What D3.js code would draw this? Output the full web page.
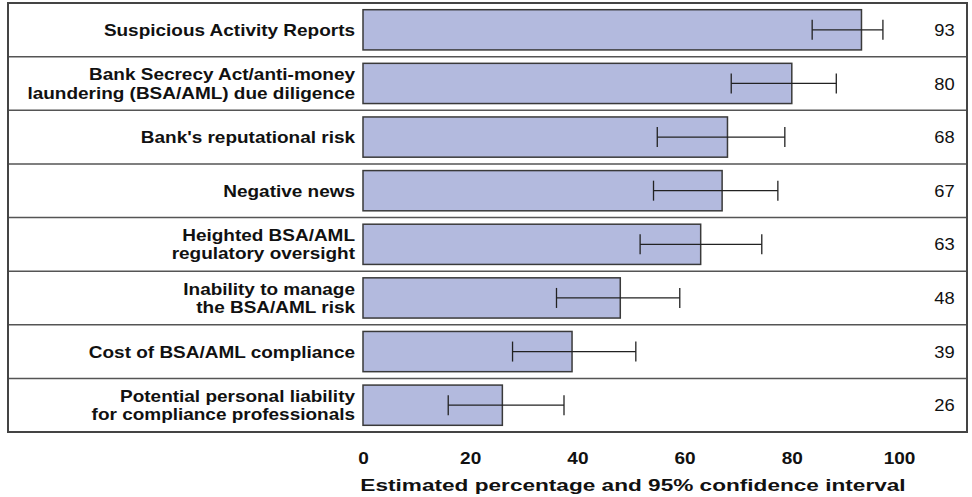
<!DOCTYPE html>
<html>
<head>
<meta charset="utf-8">
<script src="https://cdn.jsdelivr.net/npm/d3@7"></script>
<style>
    body { margin: 0; background: #fff; }
    svg { display: block; font-family: 'Liberation Sans', Arial, sans-serif; }
</style>
</head>
<body>
<div id="chart"></div>
<script>
// categories, one entry per row (lines split for wrapping)
var categories = [
    ['Suspicious Activity Reports'],
    ['Bank Secrecy Act/anti-money', 'laundering (BSA/AML) due diligence'],
    ["Bank's reputational risk"],
    ['Negative news'],
    ['Heighted BSA/AML', 'regulatory oversight'],
    ['Inability to manage', 'the BSA/AML risk'],
    ['Cost of BSA/AML compliance'],
    ['Potential personal liability', 'for compliance professionals']
];
var values = [93, 80, 68, 67, 63, 48, 39, 26];
var lower = [83.8, 68.7, 54.9, 54.2, 51.7, 36.1, 27.9, 15.9];
var upper = [97.0, 88.3, 78.7, 77.4, 74.4, 59.1, 50.9, 37.5];
var ticks = [0, 20, 40, 60, 80, 100];

var W = 972, H = 497;
var frame = {left: 8, right: 967, top: 3, bottom: 432};
// the source picture is a bit wider than tall, so text is stretched sideways
var stretch = 1.15;

var svg = d3.select('#chart').append('svg')
    .attr('width', W)
    .attr('height', H);

// scales
var xScale = d3.scaleLinear()
    .domain([0, 100])
    .range([363, 899]);
var yScale = d3.scaleBand()
    .domain(d3.range(values.length))
    .range([frame.top, frame.bottom])
    .paddingInner(0.25)
    .paddingOuter(0.125);
var step = yScale.step();

// row separators
svg.selectAll('line.row')
    .data(d3.range(1, values.length))
    .enter()
    .append('line').classed('row', true)
    .attr('x1', frame.left)
    .attr('x2', frame.right)
    .attr('y1', function(i) { return frame.top + i * step; })
    .attr('y2', function(i) { return frame.top + i * step; })
    .style('stroke', '#555')
    .style('stroke-width', 1.5);

// bars
svg.selectAll('rect.bar')
    .data(values)
    .enter()
    .append('rect').classed('bar', true)
    .attr('x', xScale(0))
    .attr('y', function(d, i) { return yScale(i); })
    .attr('width', function(d) { return xScale(d) - xScale(0); })
    .attr('height', yScale.bandwidth())
    .style('fill', '#b3bade')
    .style('stroke', '#3a3a3a')
    .style('stroke-width', 1.5);

// error bars
var err = svg.selectAll('g.err')
    .data(values)
    .enter()
    .append('g').classed('err', true)
    .attr('transform', function(d, i) {
        return 'translate(0,' + (yScale(i) + yScale.bandwidth() / 2) + ')';
    });
function errLine(sel) {
    sel.style('stroke', '#222').style('stroke-width', 1.3);
}
err.append('line')
    .attr('x1', function(d, i) { return xScale(lower[i]); })
    .attr('x2', function(d, i) { return xScale(upper[i]); })
    .call(errLine);
err.append('line')
    .attr('x1', function(d, i) { return xScale(lower[i]); })
    .attr('x2', function(d, i) { return xScale(lower[i]); })
    .attr('y1', -10).attr('y2', 10)
    .call(errLine);
err.append('line')
    .attr('x1', function(d, i) { return xScale(upper[i]); })
    .attr('x2', function(d, i) { return xScale(upper[i]); })
    .attr('y1', -10).attr('y2', 10)
    .call(errLine);

// category labels
var lineH = 18.5;
svg.selectAll('g.cat')
    .data(categories)
    .enter()
    .append('g').classed('cat', true)
    .attr('transform', function(d, i) {
        return 'translate(355,' + (yScale(i) + yScale.bandwidth() / 2) + ') scale(' + stretch + ',1)';
    })
    .append('text')
    .attr('text-anchor', 'end')
    .style('font-size', '16.5px')
    .style('font-weight', 700)
    .style('fill', '#111')
    .each(function(lines) {
        var t = d3.select(this);
        lines.forEach(function(s, k) {
            t.append('tspan')
                .attr('x', 0)
                .attr('y', (k - (lines.length - 1) / 2) * lineH)
                .attr('dy', '0.36em')
                .text(s);
        });
    });

// value labels
svg.selectAll('g.val')
    .data(values)
    .enter()
    .append('g').classed('val', true)
    .attr('transform', function(d, i) {
        return 'translate(' + xScale(108.5) + ',' + (yScale(i) + yScale.bandwidth() / 2) + ') scale(1.08,1)';
    })
    .append('text')
    .attr('dy', '0.36em')
    .attr('text-anchor', 'middle')
    .style('font-size', '17px')
    .style('fill', '#111')
    .text(function(d) { return d; });

// outer frame
svg.append('rect')
    .attr('x', frame.left)
    .attr('y', frame.top)
    .attr('width', frame.right - frame.left)
    .attr('height', frame.bottom - frame.top)
    .style('fill', 'none')
    .style('stroke', '#444')
    .style('stroke-width', 2);

// x axis
function customXAxis(g) {
    g.call(xAxis);
    g.select('.domain').remove();
    g.selectAll('line').remove();
    g.selectAll('text')
        .attr('transform', 'scale(1.12,1)')
        .style('font-family', "'Liberation Sans', Arial, sans-serif")
        .style('font-size', '17px')
        .style('font-weight', 700)
        .style('fill', '#111');
}
var xAxis = d3.axisBottom()
    .scale(xScale)
    .tickValues(ticks)
    .tickSize(0)
    .tickPadding(0);
svg.append('g')
    .attr('transform', 'translate(0,452)')
    .call(customXAxis);

// axis title
svg.append('g')
    .attr('transform', 'translate(' + ((xScale(0) + xScale(100)) / 2 + 2) + ',491) scale(1.33,1)')
    .append('text')
    .attr('text-anchor', 'middle')
    .style('font-size', '17px')
    .style('font-weight', 700)
    .style('fill', '#111')
    .text('Estimated percentage and 95% confidence interval');
</script>
</body>
</html>
